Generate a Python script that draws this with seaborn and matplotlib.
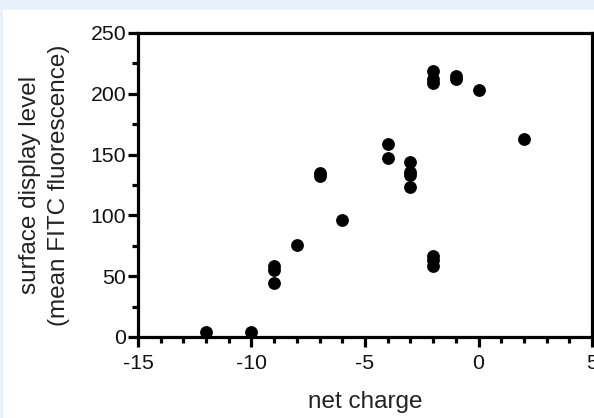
import matplotlib
matplotlib.use("Agg")
import matplotlib.pyplot as plt
from matplotlib.ticker import MultipleLocator
from matplotlib.patches import Rectangle
import seaborn as sns
import pandas as pd

net_charge = [-12, -10, -9, -9, -9, -8, -7, -7, -6, -4, -4, -3, -3, -3, -3,
              -2, -2, -2, -2, -2, -2, -1, -1, 0, 2]
display_level = [4, 4, 58, 55, 44, 76, 135, 132, 96, 159, 147, 144, 136, 133, 123,
                 219, 212, 209, 67, 63, 58, 215, 212, 203, 163]

x_label = "net charge"
y_label = "surface display level\n(mean FITC fluorescence)"

df = pd.DataFrame({"net charge": net_charge, "level": display_level})

sns.set_style("ticks")
plt.rcParams["font.family"] = ["Liberation Sans", "DejaVu Sans"]
plt.rcParams["axes.unicode_minus"] = False

fig = plt.figure(figsize=(5.94, 4.18), dpi=100)
fig.patch.set_facecolor("#E8F1F9")
bg = Rectangle((2.5 / 594, 0), 1, (418 - 9.5) / 418,
               transform=fig.transFigure, facecolor="white",
               edgecolor="none", zorder=-10)
fig.add_artist(bg)
ax = fig.add_axes([138 / 594, 1 - 337 / 418, (592 - 138) / 594, (337 - 33) / 418])
ax.set_zorder(1)
ax.set_facecolor("white")

sns.scatterplot(data=df, x="net charge", y="level", ax=ax, color="black",
                s=85, linewidth=0, clip_on=False, zorder=5)

ax.set_xlim(-15, 5)
ax.set_ylim(0, 250)
ax.xaxis.set_major_locator(MultipleLocator(5))
ax.xaxis.set_minor_locator(MultipleLocator(1))
ax.yaxis.set_major_locator(MultipleLocator(50))
ax.yaxis.set_minor_locator(MultipleLocator(25))

for sp in ax.spines.values():
    sp.set_linewidth(2.3)
    sp.set_color("black")
    sp.set_visible(True)

ax.tick_params(which="major", length=7.5, width=2.3, color="black",
               labelsize=15.3, labelcolor="#111111", direction="out")
ax.tick_params(which="minor", length=4.5, width=2.3, color="black", direction="out")
ax.tick_params(axis="y", which="major", pad=1)
ax.tick_params(axis="x", which="major", pad=5)

ax.set_xlabel(x_label, fontsize=17.5, labelpad=13, color="#222222")
ax.set_ylabel(y_label, fontsize=17.5, labelpad=15, color="#222222", linespacing=1.38)

fig.savefig("out.png", dpi=100, facecolor=fig.get_facecolor())
